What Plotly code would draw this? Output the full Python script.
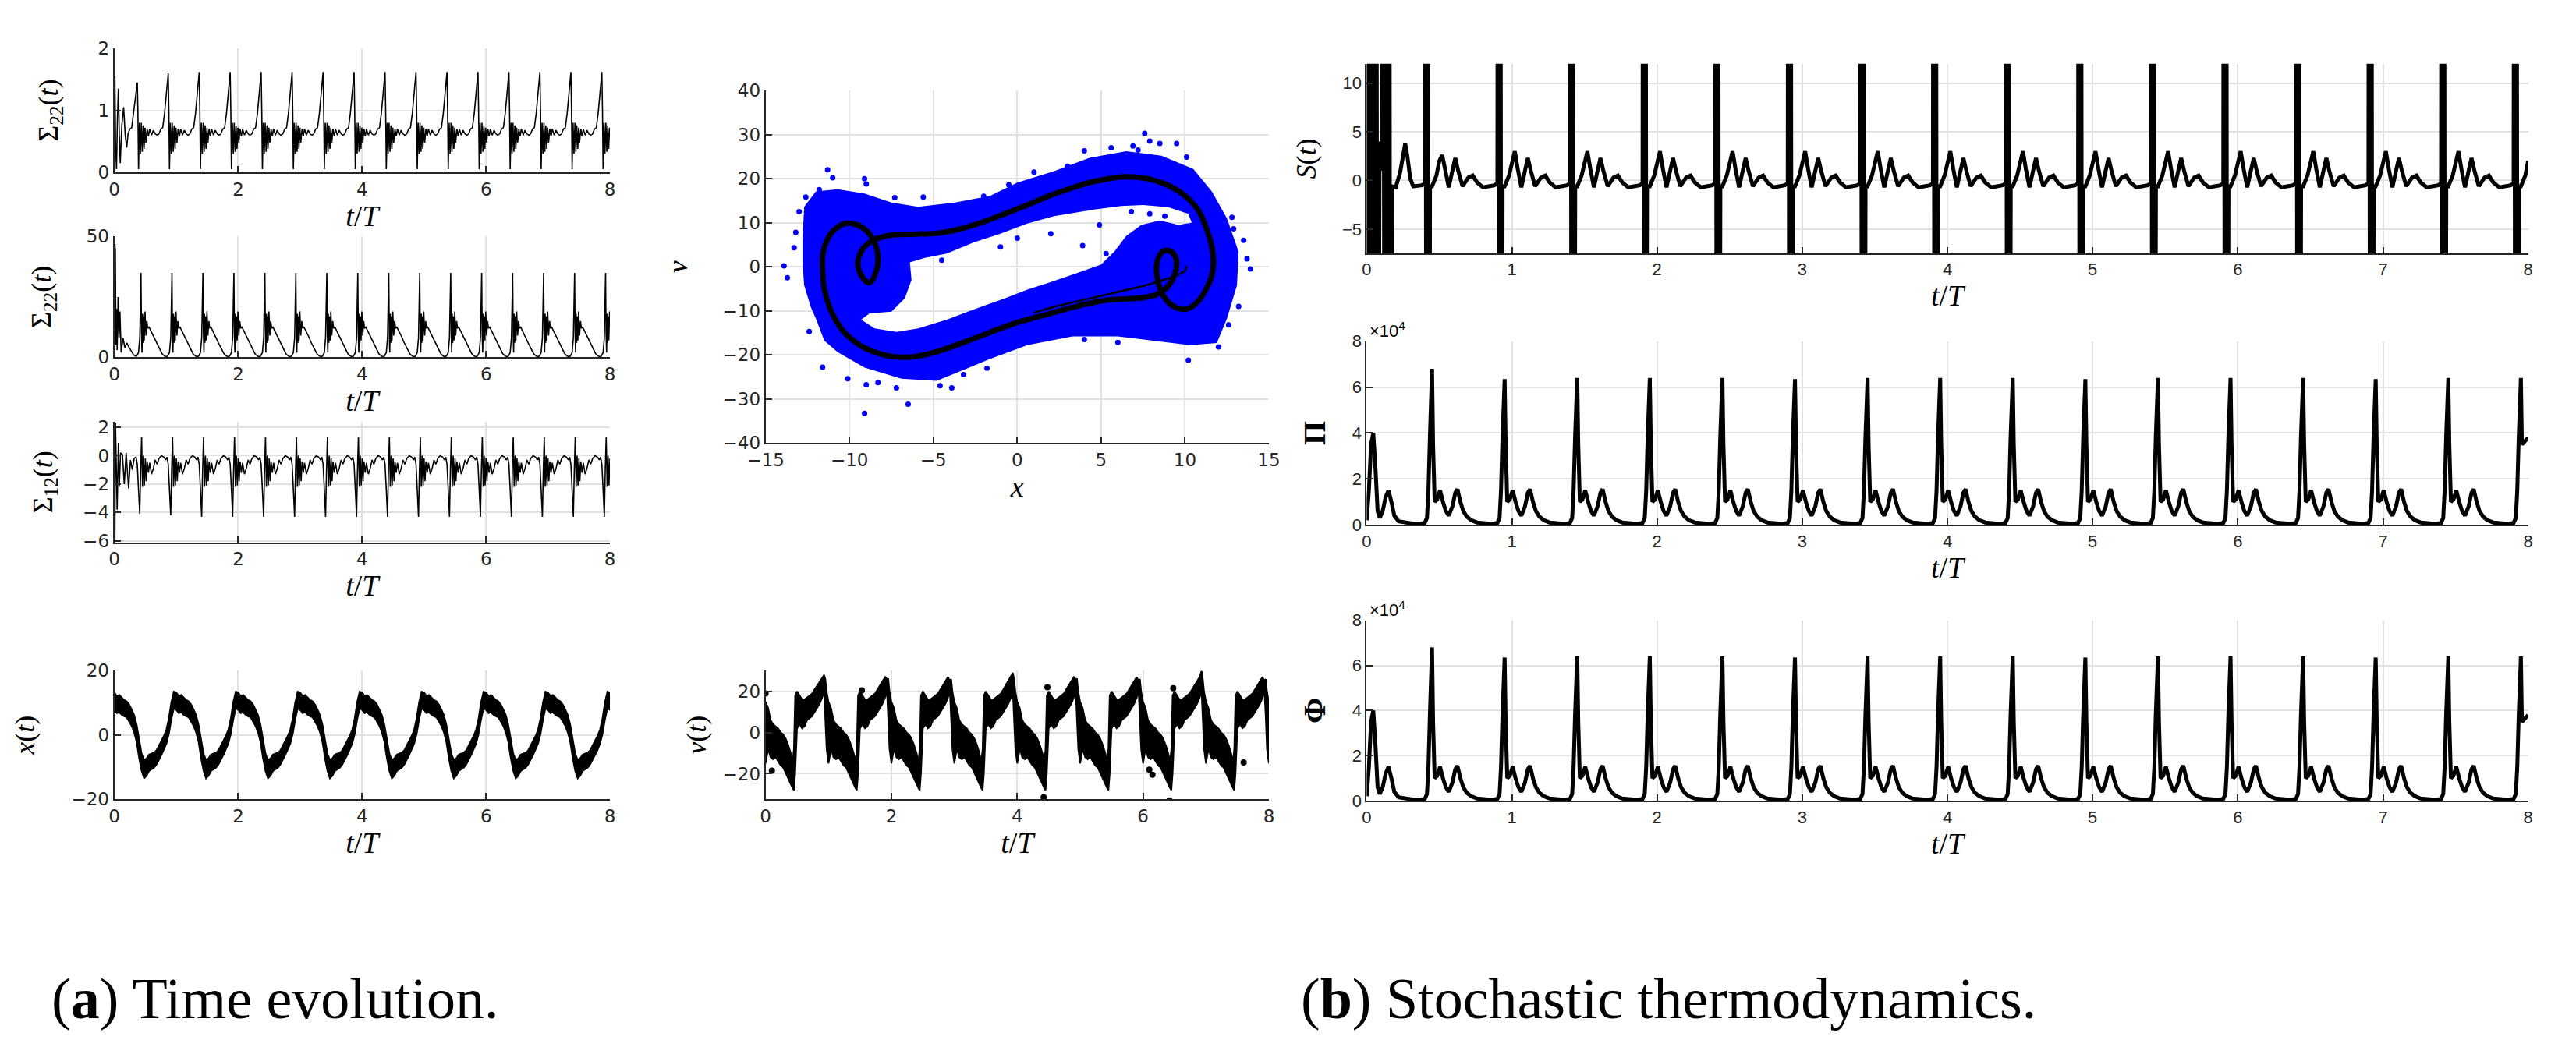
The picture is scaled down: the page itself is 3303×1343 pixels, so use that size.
"""
Recreation of a two-part figure: (a) time evolution of a stochastic oscillator,
(b) its stochastic thermodynamics (entropy, production and flux).
"""

import plotly.graph_objects as go

T_END = 8.0

# ---------------- values ----------------
# Each periodic signal is stored as one read cycle (offset from the cycle's event time, value)
# plus the event times / peak heights read for each cycle. None marks the per-cycle peak.

# Sigma_22, top panel (peaks every T/2 starting at 0.37)
s22a_pre_t = [0.0, 0.008, 0.02, 0.035, 0.05, 0.065, 0.08, 0.095, 0.12, 0.15, 0.175, 0.2]
s22a_pre_v = [0.0, 1.55, 0.4, 0.05, 0.9, 1.35, 0.6, 0.15, 0.75, 1.05, 0.6, 0.4]
s22a_offsets = [-0.15, -0.12, -0.09, -0.06, -0.03, 0.0, 0.01, 0.02, 0.035, 0.05, 0.065, 0.08,
                0.095, 0.11, 0.125, 0.14, 0.16, 0.18, 0.2, 0.23, 0.26, 0.29, 0.32]
s22a_values = [0.62, 0.7, 0.72, 0.95, 1.25, None, 1.0, 0.05, 0.8, 0.3, 0.8, 0.33,
               0.76, 0.38, 0.72, 0.48, 0.7, 0.58, 0.7, 0.6, 0.68, 0.62, 0.6]
s22a_peaks = [1.45, 1.6, 1.62, 1.62, 1.62, 1.62, 1.62, 1.62,
              1.62, 1.62, 1.62, 1.62, 1.62, 1.62, 1.62, 1.62]

# Sigma_22, second panel (peaks every T/2 starting at 0.43)
s22b_pre_t = [0.0, 0.008, 0.016, 0.025, 0.035, 0.045, 0.06, 0.075, 0.09, 0.11, 0.14, 0.17,
              0.2, 0.24, 0.28, 0.31, 0.34]
s22b_pre_v = [0.0, 47.0, 44.0, 5.0, 20.0, 3.0, 25.0, 8.0, 19.0, 2.0, 8.0, 4.0, 6.0, 4.0, 2.0, 1.0, 0.5]
s22b_offsets = [-0.07, -0.04, -0.02, -0.01, 0.0, 0.008, 0.016, 0.025, 0.033, 0.042, 0.052,
                0.065, 0.08, 0.095, 0.11, 0.13, 0.16, 0.2, 0.25, 0.3, 0.34, 0.38, 0.41]
s22b_values = [0.5, 2.0, 8.0, 20.0, None, 10.0, 2.0, 18.0, 6.0, 17.0, 7.0,
               19.0, 9.0, 15.0, 12.0, 12.5, 11.0, 9.0, 6.0, 3.5, 1.5, 0.5, 0.3]
s22b_peaks = [35.0] * 16

# Sigma_12 (negative spikes every T/2 starting at 0.41)
s12_pre_t = [0.0, 0.008, 0.018, 0.03, 0.045, 0.065, 0.08, 0.1, 0.13, 0.16, 0.19, 0.23, 0.26, 0.29, 0.32]
s12_pre_v = [0.0, -6.0, 2.3, -0.5, -3.8, 0.9, -2.2, 0.2, 0.1, -2.0, 0.2, -2.3, -0.3, -1.0, -0.2]
s12_offsets = [-0.06, -0.04, -0.02, 0.0, 0.015, 0.03, 0.045, 0.06, 0.075, 0.09, 0.105,
               0.12, 0.14, 0.16, 0.19, 0.22, 0.25, 0.28, 0.31, 0.35, 0.39, 0.42]
s12_values = [-0.1, -0.6, -2.4, None, -1.0, 1.3, -2.2, 0.0, -2.1, -0.2, -1.8,
              -0.4, -1.2, -0.5, -1.3, -0.9, -0.3, -0.6, -0.2, 0.0, -0.1, -0.3]
s12_peaks = [-4.1, -4.2, -4.3, -4.3, -4.3, -4.3, -4.3, -4.3,
             -4.3, -4.3, -4.3, -4.3, -4.3, -4.3, -4.3, -4.3]

# x(t): noisy band, one cycle per T (lower / upper edge of the band)
xt_rel = [0.00, 0.04, 0.08, 0.12, 0.16, 0.20, 0.24, 0.28, 0.32, 0.36, 0.40, 0.44, 0.48,
          0.52, 0.56, 0.60, 0.64, 0.68, 0.72, 0.76, 0.80, 0.84, 0.88, 0.92, 0.96]
xt_lo = [7.8, 6.8, 7.1, 6.3, 5.8, 5.5, 4.3, 2.8, 0.8, -2.2, -7.2, -11.2, -13.5,
         -12.7, -11.2, -10.7, -10.2, -9.2, -7.7, -6.2, -4.7, -2.7, 0.3, 4.8, 8.3]
xt_hi = [13.2, 12.2, 12.5, 11.7, 10.9, 10.5, 9.5, 7.9, 6.2, 3.2, -1.3, -5.8, -7.8,
         -7.3, -6.1, -5.8, -5.5, -4.8, -3.3, -1.8, -0.3, 1.7, 5.2, 10.2, 13.5]

# v(t): noisy band, one cycle per T
vt_rel = [0.0, 0.04, 0.08, 0.12, 0.16, 0.2, 0.24, 0.28, 0.32, 0.36, 0.4, 0.43, 0.45, 0.47,
          0.5, 0.54, 0.58, 0.62, 0.66, 0.7, 0.74, 0.78, 0.82, 0.86, 0.9, 0.93, 0.95, 0.97]
vt_lo = [-15, -8, -12, -13, -12, -14, -16, -17, -19, -22, -25, -27, -28, -20,
         2, 4, 2, 3, 6, 7, 8, 10, 12, 14, 17, 20, 8, -8]
vt_hi = [15, 12, 6, 4, 3, 2, 0, -1, -3, -6, -10, -14, -8, 18,
         20, 18, 16, 16, 17, 18, 19, 21, 23, 25, 27, None, 26, 20]
vt_peaks = [28, 26, 25, 29, 26, 25, 30, 25]
vt_dots_t = [0.0, 0.1, 1.53, 4.42, 4.48, 6.1, 6.15, 6.42, 6.48, 7.6]
vt_dots_v = [19.0, -18.5, 20.5, -31.5, 22.0, -18.0, -20.5, -33.0, 21.5, -14.5]

# phase portrait: blue cloud outline (outer edge and the empty region inside)
cloud_outer_x = [-12.8, -12.8, -12.7, -12.0, -10.7, -9.1, -7.5, -5.9, -3.7, -1.6, 0.0, 2.2, 4.3,
                 6.5, 8.6, 10.5, 11.6, 12.5, 13.2, 13.1, 12.5, 11.9, 10.3, 8.1, 6.0, 3.3, 0.6,
                 -1.6, -3.2, -4.8, -6.9, -9.1, -10.7, -11.5, -12.0, -12.3, -12.7]
cloud_outer_y = [1.0, 6.0, 13.6, 17.1, 17.6, 16.6, 14.6, 13.6, 14.6, 16.1, 19.1, 21.7, 24.7,
                 26.2, 25.2, 22.2, 17.1, 11.0, 3.4, -4.2, -11.8, -17.3, -17.8, -16.8, -15.8,
                 -15.8, -17.8, -20.9, -23.4, -25.9, -25.4, -22.9, -19.4, -16.8, -11.8, -9.2, -4.2]
cloud_hole_x = [-6.4, -6.3, -6.7, -7.5, -8.8, -9.3, -8.5, -7.2, -5.9, -4.2, -2.6, -0.75, 0.6,
                1.9, 3.5, 5.0, 5.8, 6.5, 7.4, 8.5, 9.6, 10.4, 10.2, 9.0, 7.5, 6.2, 4.6, 2.2,
                0.6, -1.0, -2.6, -4.2, -5.5]
cloud_hole_y = [1.0, -3.0, -7.2, -10.2, -10.6, -12.0, -14.0, -14.8, -14.0, -12.0, -9.7, -7.2,
                -5.2, -3.6, -1.5, 0.5, 3.5, 7.0, 9.5, 10.5, 9.5, 10.0, 12.0, 13.5, 14.0, 13.8,
                13.0, 11.5, 9.8, 7.5, 5.5, 3.0, 2.0]
cloud_dots_x = [-13.9, -13.7, -13.3, -13.2, -13.0, -12.6, -11.8, -11.3, -11.0, -9.1, -9.0,
                -7.3, -5.6, -2.0, -0.5, 1.0, 3.0, 4.0, 5.6, 6.9, 7.2, 7.9, 7.6, 8.5, 9.5,
                10.1, 11.3, 12.8, 12.9, 13.5, 13.7, 13.9, 13.2, 12.6, 12.0, 10.2, 6.0, 4.0,
                -1.8, -3.2, -4.6, -5.8, -7.2, -8.3, -9.0, -10.1, -11.6, -12.4, -9.1, -6.5,
                -3.9, 3.0, 1.3, 0.0, -1.0, 2.0, 4.9, 6.8, 5.3, 3.9, -4.5, 7.9, 8.8]
cloud_dots_y = [0.2, -2.5, 4.3, 7.8, 12.5, 15.8, 17.5, 22.0, 20.2, 20.0, 18.8, 15.7, 15.8,
                16.0, 18.6, 21.5, 22.8, 26.3, 27.0, 27.4, 26.5, 28.5, 30.3, 28.0, 28.0, 24.9,
                17.0, 11.2, 8.6, 6.0, 1.8, -0.5, -9.0, -13.2, -18.2, -21.2, -17.2, -16.5,
                -23.0, -24.5, -27.0, -25.0, -27.5, -26.3, -26.8, -25.4, -22.8, -14.7, -33.3,
                -31.2, -27.5, -14.2, -13.0, 6.5, 4.5, 7.5, 9.5, 12.5, 3.0, 4.8, 1.5, 12.0, 11.5]

# phase portrait: deterministic limit cycle and initial transient
cycle_x = [-7.5, -6.0, -4.8, -3.4, -2.0, -0.75, 0.6, 1.9, 3.2, 4.3, 5.3, 6.2, 7.2, 8.1, 9.1,
           10.0, 10.8, 11.3, 11.6, 11.7, 11.6, 11.3, 10.9, 10.3, 9.8, 9.2, 8.7, 8.4, 8.3, 8.4,
           8.7, 9.0, 9.4, 9.5, 9.3, 8.9, 8.3, 7.5, 6.5, 5.5, 4.3, 3.0, 1.9, 0.3, -1.0, -2.1,
           -3.5, -5.0, -6.4, -7.6, -8.5, -9.5, -10.4, -11.1, -11.5, -11.6, -11.6, -11.4, -11.0,
           -10.3, -9.6, -9.0, -8.5, -8.3, -8.4, -8.8, -9.2, -9.5, -9.3, -8.7, -8.0, -7.5]
cycle_y = [7.2, 7.4, 7.6, 8.6, 10.2, 12.0, 14.0, 16.1, 17.8, 19.1, 19.9, 20.4, 20.3, 19.7, 18.3,
           16.1, 12.8, 8.5, 4.5, 0.9, -2.0, -4.8, -7.3, -9.3, -9.6, -8.7, -6.5, -3.5, -0.5, 1.9,
           3.5, 3.7, 2.5, 0.5, -2.5, -4.8, -6.3, -7.0, -7.3, -7.5, -8.3, -9.5, -10.7, -12.3,
           -14.0, -15.6, -17.6, -19.5, -20.5, -20.3, -19.4, -17.5, -14.5, -10.0, -5.0, -1.0,
           2.5, 5.5, 8.0, 9.8, 9.6, 8.2, 5.5, 2.0, -1.0, -3.6, -2.5, 0.5, 3.5, 5.8, 6.8, 7.2]
tail_x = [10.1, 10.0, 9.6, 8.8, 7.6, 6.2, 4.8, 3.4, 2.2, 1.0]
tail_y = [0.2, -1.0, -1.8, -2.9, -4.3, -5.6, -6.8, -8.0, -9.1, -10.4]

# S(t): clipped spike bursts every T/2 starting at 0.42
s_pre_t = [0.0, 0.005, 0.015, 0.025, 0.035, 0.045, 0.055, 0.065, 0.075, 0.088, 0.097, 0.106,
           0.114, 0.124, 0.134, 0.144, 0.154, 0.164, 0.175, 0.2, 0.23, 0.25, 0.265, 0.28, 0.3, 0.32]
s_pre_v = [0.0, 60, -60, 60, -60, 60, -60, 60, -60, 1.0, 4.0, 1.0,
           60, -60, 60, -60, 60, -60, -0.6, -0.7, 0.8, 2.8, 3.8, 2.5, 0.2, -0.6]
s_offsets = [-0.08, -0.04, -0.02, -0.016, -0.008, 0.0, 0.008, 0.016, 0.03, 0.06, 0.08, 0.1,
             0.12, 0.145, 0.17, 0.19, 0.21, 0.24, 0.28, 0.31, 0.34, 0.38]
s_values = [-0.6, -0.5, -0.3, 60, -60, 60, -60, -0.6, -0.6, 0.5, 2.0, None,
            1.2, -0.7, 1.0, 2.3, 1.0, -0.6, 0.3, 0.5, -0.2, -0.7]
s_peaks = [2.6, 3.0, 3.0, 3.0, 3.0, 3.0, 3.0, 3.0, 3.0, 3.0, 3.0, 3.0, 3.0, 3.0, 3.0, 3.0]

# Pi and Phi (units of 1e4), main peaks every T/2 starting at 0.45
pi_pre_t = [0.0, 0.015, 0.03, 0.045, 0.06, 0.075, 0.09, 0.11, 0.13, 0.15, 0.17, 0.19,
            0.22, 0.26, 0.3, 0.34]
pi_pre_v = [0.2, 1.5, 3.5, 4.0, 2.5, 0.6, 0.3, 0.6, 1.2, 1.5, 1.0, 0.4, 0.15, 0.1, 0.05, 0.03]
pi_offsets = [-0.08, -0.05, -0.035, -0.025, -0.015, -0.007, 0.0, 0.007, 0.018, 0.035, 0.055,
              0.075, 0.095, 0.115, 0.14, 0.16, 0.175, 0.195, 0.215, 0.24, 0.27, 0.31, 0.36, 0.4]
pi_values = [0.05, 0.08, 0.3, 1.5, 3.8, 5.8, None, 3.5, 1.0, 1.1, 1.5,
             1.0, 0.6, 0.4, 0.8, 1.4, 1.55, 1.0, 0.6, 0.35, 0.2, 0.1, 0.05, 0.05]
pi_peaks = [6.8, 6.35, 6.4, 6.4, 6.4, 6.35, 6.4, 6.4, 6.4, 6.35, 6.4, 6.4, 6.4, 6.35, 6.4, 6.4]
pi_end = 3.8
phi_peaks = [6.8, 6.35, 6.4, 6.4, 6.4, 6.35, 6.4, 6.4, 6.4, 6.35, 6.4, 6.4, 6.4, 6.35, 6.4, 6.4]
phi_end = 3.8

# ---------------- layout (pixels of the 3303 x 1343 canvas) ----------------
W, H = 3303, 1343
PANELS = {
    1: (116, 759, 42, 204),
    2: (116, 759, 288, 446),
    3: (116, 759, 530, 688),
    4: (116, 759, 856, 1024),
    5: (961, 1614, 97, 558),
    6: (961, 1614, 856, 1024),
    7: (1741, 3248, 62, 310),
    8: (1741, 3248, 425, 665),
    9: (1741, 3248, 790, 1026),
}
T8 = [0, 2, 4, 6, 8]
AXES = {
    1: ([0, 8], T8, [0, 2], [0, 1, 2]),
    2: ([0, 8], T8, [0, 50], [0, 50]),
    3: ([0, 8], T8, [-6.1, 2.4], [-6, -4, -2, 0, 2]),
    4: ([0, 8], T8, [-20, 20], [-20, 0, 20]),
    5: ([-15, 15], [-15, -10, -5, 0, 5, 10, 15], [-40, 40], [-40, -30, -20, -10, 0, 10, 20, 30, 40]),
    6: ([0, 8], T8, [-32.4, 30], [-20, 0, 20]),
    7: ([0, 8], list(range(9)), [-7.5, 12], [-5, 0, 5, 10]),
    8: ([0, 8], list(range(9)), [0, 8], [0, 2, 4, 6, 8]),
    9: ([0, 8], list(range(9)), [0, 8], [0, 2, 4, 6, 8]),
}
TT = "<i>t</i>/<i>T</i>"
TITLES = {  # (x title, y title, y-title standoff)
    1: (TT, "Σ<sub>22</sub>(<i>t</i>)", 40),
    2: (TT, "Σ<sub>22</sub>(<i>t</i>)", 34),
    3: (TT, "Σ<sub>12</sub>(<i>t</i>)", 28),
    4: (TT, "<i>x</i>(<i>t</i>)", 36),
    5: ("<i>x</i>", "<i>v</i>", 34),
    6: (TT, "<i>v</i>(<i>t</i>)", 10),
    7: (TT, "<i>S</i>(<i>t</i>)", 22),
    8: (TT, "<b>Π</b>", 22),
    9: (TT, "<b>Φ</b>", 22),
}
INK = "#262626"
MATH = "Liberation Serif"


def tile(t0, period, offsets, values, peaks, t_max=T_END):
    """Repeat a read cycle at each event time, filling the peak slot from the per-cycle list."""
    t, y = [], []
    for k, pk in enumerate(peaks):
        for dt, v in zip(offsets, values):
            tt = t0 + k * period + dt
            if 0 <= tt <= t_max:
                t.append(round(tt, 4))
                y.append(pk if v is None else v)
    return t, y


def ring(xs, ys):
    return "M" + " L".join(f"{x},{y}" for x, y in zip(xs, ys)) + " Z"


def ax(kind, n):
    return kind if n == 1 else f"{kind}{n}"


fig = go.Figure()


def add_line(n, x, y, width, color="black", shape="linear"):
    fig.add_trace(go.Scatter(x=x, y=y, mode="lines", line=dict(color=color, width=width, shape=shape),
                             xaxis=ax("x", n), yaxis=ax("y", n), showlegend=False, hoverinfo="skip"))


def add_band(n, t, lo, hi):
    fig.add_trace(go.Scatter(x=t + t[::-1], y=hi + lo[::-1], mode="lines", fill="toself",
                             fillcolor="black", line=dict(color="black", width=2),
                             xaxis=ax("x", n), yaxis=ax("y", n), showlegend=False, hoverinfo="skip"))


# (a) covariance panels
t, y = tile(0.37, 0.5, s22a_offsets, s22a_values, s22a_peaks)
add_line(1, s22a_pre_t + t, s22a_pre_v + y, 1.6)
t, y = tile(0.43, 0.5, s22b_offsets, s22b_values, s22b_peaks)
add_line(2, s22b_pre_t + t, s22b_pre_v + y, 1.6)
t, y = tile(0.41, 0.5, s12_offsets, s12_values, s12_peaks)
add_line(3, s12_pre_t + t, s12_pre_v + y, 1.6)

# x(t) band
t, lo = tile(0.0, 1.0, xt_rel, xt_lo, [None] * 8)
_, hi = tile(0.0, 1.0, xt_rel, xt_hi, [None] * 8)
add_band(4, t + [T_END], lo + [xt_lo[0]], hi + [xt_hi[0]])

# phase portrait: blue cloud as an even-odd path (outer edge with the empty region cut out)
fig.add_shape(type="path", path=ring(cloud_outer_x, cloud_outer_y) + " " + ring(cloud_hole_x, cloud_hole_y),
              xref="x5", yref="y5", fillcolor="#0000ff", fillrule="evenodd",
              line=dict(width=0), layer="between")
fig.add_trace(go.Scatter(x=cloud_dots_x, y=cloud_dots_y, mode="markers",
                         marker=dict(color="#0000ff", size=7), xaxis="x5", yaxis="y5",
                         showlegend=False, hoverinfo="skip"))
add_line(5, tail_x, tail_y, 2.5)
add_line(5, cycle_x, cycle_y, 7, shape="spline")

# v(t) band
t, lo = tile(0.0, 1.0, vt_rel, vt_lo, vt_peaks)
_, hi = tile(0.0, 1.0, vt_rel, vt_hi, vt_peaks)
add_band(6, t + [T_END], lo + [vt_lo[0]], hi + [vt_hi[0]])
fig.add_trace(go.Scatter(x=vt_dots_t, y=vt_dots_v, mode="markers", marker=dict(color="black", size=8),
                         xaxis="x6", yaxis="y6", showlegend=False, hoverinfo="skip"))

# (b) thermodynamics
t, y = tile(0.42, 0.5, s_offsets, s_values, s_peaks)
add_line(7, s_pre_t + t, s_pre_v + y, 5)
t, y = tile(0.45, 0.5, pi_offsets, pi_values, pi_peaks, t_max=7.962)
add_line(8, pi_pre_t + t + [T_END], pi_pre_v + y + [pi_end], 5)
t, y = tile(0.45, 0.5, pi_offsets, pi_values, phi_peaks, t_max=7.962)
add_line(9, pi_pre_t + t + [T_END], pi_pre_v + y + [phi_end], 5)

# ---------------- axes ----------------
layout = dict(width=W, height=H, margin=dict(l=0, r=0, t=0, b=0),
              paper_bgcolor="white", plot_bgcolor="white", showlegend=False)
for n, (x0, x1, ytop, ybot) in PANELS.items():
    xr, xt, yr, yt = AXES[n]
    xtitle, ytitle, ystand = TITLES[n]
    right_col = n >= 7
    tick_font = dict(family="Liberation Sans" if right_col else "DejaVu Sans",
                     size=22 if right_col else 23, color=INK)
    common = dict(showline=True, linecolor=INK, linewidth=2, mirror=False, ticks="inside",
                  ticklen=8, tickwidth=1.5, tickcolor=INK, showgrid=True, gridcolor="#e1e1e1",
                  gridwidth=1.5, zeroline=False, tickfont=tick_font)
    ysize = 40 if n in (8, 9) else 36
    layout["xaxis" if n == 1 else f"xaxis{n}"] = dict(
        common, domain=[x0 / W, x1 / W], range=xr, tickvals=xt, anchor=ax("y", n),
        title=dict(text=xtitle, standoff=4, font=dict(family=MATH, size=38, color="black")))
    layout["yaxis" if n == 1 else f"yaxis{n}"] = dict(
        common, domain=[1 - ybot / H, 1 - ytop / H], range=yr, tickvals=yt, anchor=ax("x", n),
        title=dict(text=ytitle, standoff=ystand, font=dict(family=MATH, size=ysize, color="black")))
fig.update_layout(**layout)


def label(text, x, y, size, family, anchor="left"):
    fig.add_annotation(text=text, x=x / W, y=1 - y / H, xref="paper", yref="paper",
                       showarrow=False, xanchor=anchor, yanchor="middle",
                       font=dict(family=family, size=size, color="black"))


label("×10<sup>4</sup>", 1743, 410, 22, "Liberation Sans")
label("×10<sup>4</sup>", 1743, 775, 22, "Liberation Sans")
label("(<b>a</b>) Time evolution.", 32, 1285, 74, MATH)
label("(<b>b</b>) Stochastic thermodynamics.", 1654, 1285, 74, MATH)

fig.write_html("out.html")
